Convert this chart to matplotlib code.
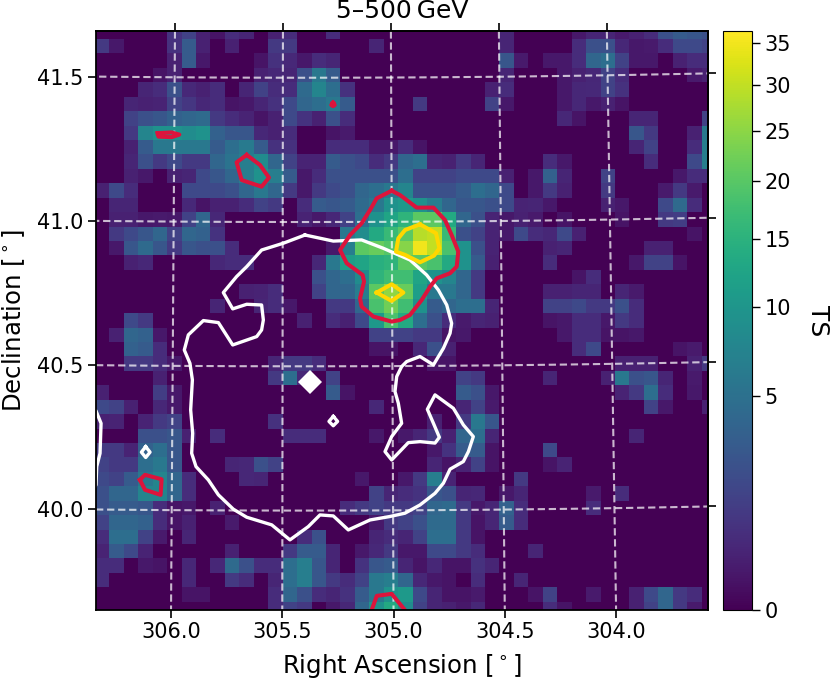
import numpy as np
import matplotlib
matplotlib.use('Agg')
import matplotlib.pyplot as plt
from matplotlib.colors import PowerNorm

# TS map, read cell by cell: row (from top) -> {column: TS}, other cells are 0
ts_rows = {
    0: {5: .8, 6: 1.4, 7: .3, 8: .1, 9: .6, 10: .4, 12: .3, 13: .6, 16: .6, 28: .4, 33: .15, 34: .4, 35: .4, 36: .2, 37: .3, 38: .6, 39: 2.2, 40: 3, 41: 2.6, 42: 2.2},
    1: {0: 1, 1: .15, 5: .75, 6: 3, 7: .3, 9: .3, 12: 1, 13: 1, 19: .4, 28: .4, 33: .6, 34: 2.2, 35: 2.2, 36: .45, 37: .15, 38: .2, 39: .6, 40: 1.8, 41: 1.8, 42: 1.4},
    2: {5: .3, 6: 3, 7: .15, 11: .1, 12: .75, 13: .5, 14: .15, 15: .6, 16: .4, 28: 2.6, 29: .2, 31: .15, 32: .15, 33: .6, 34: 4, 35: 4.8, 36: 1.4, 37: .15, 38: .15, 40: .3, 41: .6, 42: .6},
    3: {4: .1, 5: .3, 11: .3, 12: .45, 13: .4, 14: 2.2, 15: 5.8, 16: 3, 28: .4, 32: .15, 33: .3, 34: .45, 35: 1.4, 36: .6, 41: .2, 42: .3},
    4: {3: .4, 4: .6, 5: 2.2, 6: .5, 7: .3, 8: .6, 10: .4, 11: 1.4, 12: .6, 13: .6, 14: 4.4, 15: 7.6, 16: 4.8, 17: .75, 27: .3, 28: .6, 32: .15, 33: .45, 34: .5, 35: 1.4, 36: .75},
    5: {2: .4, 3: .3, 4: .35, 5: 1.4, 6: .9, 7: .45, 8: .6, 9: .1, 10: .15, 11: .4, 12: .75, 13: 1.8, 14: 4, 15: 4.8, 16: 5.8, 17: 3, 22: 1, 27: 1.4, 28: .15, 32: .15, 33: .45, 34: .15, 35: .3, 36: .1},
    6: {2: 1.4, 3: 2.2, 4: 2.6, 5: 3.5, 6: 4, 7: 4.4, 8: 1, 9: .6, 10: .35, 11: .1, 12: .3, 13: 1.8, 14: .8, 15: .3, 16: 2.2, 17: .6, 32: .45, 33: .1, 37: .4, 38: .4, 42: 1.4},
    7: {2: 1, 3: 7.6, 4: 9.5, 5: 9.5, 6: 8.6, 7: 9.5, 8: 3.5, 9: 2.6, 10: 2.6, 11: .45, 12: .3, 13: .6, 16: .1, 17: .2, 37: 2.6, 38: 1, 41: .3, 42: 5.8},
    8: {2: .3, 3: 3, 4: 5.8, 5: 5.8, 6: 5.8, 7: 5.8, 8: 3, 9: 4.8, 10: 6.2, 11: 3, 12: .75, 13: .75, 16: .6, 17: .6, 18: .6, 19: .15, 20: .15, 21: .6, 22: .1, 37: .4, 38: 1.4, 41: .6, 42: 6.7},
    9: {2: .4, 3: 2.2, 4: 1, 5: 1.8, 6: 1, 7: 1, 8: 4, 9: 5.3, 10: 6.7, 11: 8.6, 12: 4, 13: 1.4, 14: .35, 15: .35, 16: 3, 17: 2.2, 18: 1.8, 19: .6, 20: 1, 21: 4, 22: 4.8, 23: .4, 24: .3, 25: 1, 26: .4, 31: .6, 32: .15, 38: .6, 41: 1.8, 42: 6.7},
    10: {2: .3, 3: .15, 5: .3, 6: .4, 7: 1.8, 8: 2.6, 9: 4, 10: 6.7, 11: 9.5, 12: 6.7, 13: 3, 14: .15, 15: .6, 16: 2.2, 17: 2.2, 18: 2.2, 19: 2.2, 20: 2.2, 21: 4.8, 22: 1.4, 23: 1.4, 24: 1.4, 25: 1.8, 26: 1.8, 27: 1.8, 28: .3, 30: .15, 31: 3.5, 32: .4, 35: 1.4, 40: .15, 41: .6, 42: .6},
    11: {0: .3, 1: 1.8, 2: .6, 6: 1.8, 7: 1.8, 8: 1.8, 9: 2.2, 10: 4, 11: 5.8, 12: 4, 13: 1, 14: .15, 15: 1, 16: 1.8, 17: 2.2, 18: 4, 19: 4.8, 20: 5.8, 21: 7.6, 22: 2.2, 23: 2.2, 24: 2.2, 25: 3, 26: 4.8, 27: 4, 28: 1.8, 30: .15, 31: 1, 32: .3, 35: 1, 39: .2, 40: 1, 41: .2},
    12: {1: .4, 2: .4, 6: .5, 7: .1, 8: .3, 9: .3, 10: .6, 11: 1.4, 12: 1, 14: .6, 15: 3, 16: 2.6, 17: 3, 18: 4.4, 19: 5.8, 20: 9.5, 21: 10.5, 22: 9.5, 23: 6.7, 24: 4, 25: 2.6, 26: 2.6, 27: 2.2, 28: 1.8, 29: .35, 30: .4, 31: .15, 35: .3, 36: .15, 39: 1.8, 40: 4.4, 41: .6},
    13: {1: .3, 2: .3, 3: .15, 4: .2, 5: .15, 6: 1.4, 7: 4, 8: .45, 14: .35, 15: .15, 16: .45, 17: 1.4, 18: 4.8, 19: 9.5, 20: 12.5, 21: 15.5, 22: 20.5, 23: 20.5, 24: 13.5, 25: 4, 26: 2.2, 27: .35, 28: .15, 29: .3, 30: .2, 32: .1, 36: .1, 39: 1, 40: 1.2},
    14: {1: 1, 2: 1.8, 3: 2.6, 4: 4, 5: 1.4, 6: 4, 7: 3.5, 8: .8, 17: 5.8, 18: 8.6, 19: 13.5, 20: 16.5, 21: 20.5, 22: 29, 23: 30, 24: 16.5, 25: 2.2, 26: 1.4, 27: .35, 28: .15, 29: 1.8, 30: .6, 31: .45, 32: 1.8, 33: .3, 41: .1},
    15: {1: .15, 2: 2.6, 3: 4.4, 4: 2.6, 5: 1, 6: 2.6, 7: 2.2, 8: 2.2, 9: .6, 16: .15, 17: 6.7, 18: 20.5, 19: 21.5, 20: 19.5, 21: 24.5, 22: 35, 23: 30, 24: 18.5, 25: 9.5, 26: 2.2, 27: .35, 31: .3, 32: .4, 38: .3, 39: .3},
    16: {2: .3, 3: .45, 8: .45, 9: .6, 10: .6, 15: .45, 16: 5.8, 17: 11.5, 18: 12.5, 19: 14.5, 20: 15.5, 21: 20.5, 22: 20.5, 23: 18.5, 24: 13.5, 25: 9.5, 26: 3, 27: .3, 31: .6, 37: .15, 38: 1.4, 39: 1.4, 40: .1},
    17: {15: 2.2, 16: 4, 17: 4.8, 18: 8.6, 19: 15.5, 20: 17.5, 21: 17.5, 22: 12.5, 23: 9.5, 24: 7.6, 25: 4, 26: 1, 33: .1, 34: .6},
    18: {10: .3, 11: .35, 12: .6, 15: 1.4, 16: 4, 17: 4, 18: 6.7, 19: 20.5, 20: 25.5, 21: 21.5, 22: 11.5, 23: 5.8, 24: 5.8, 25: 4, 26: 1, 31: .3, 32: .3, 33: .4, 34: .4, 36: .4, 37: .2},
    19: {8: .4, 11: .4, 12: .6, 13: .15, 16: 1, 17: 1, 18: 4, 19: 18.5, 20: 22.5, 21: 17.5, 22: 9.5, 23: 3, 24: 4, 25: 4.8, 26: 4.8, 27: .4, 31: 1.4, 32: 1.4, 33: 1.8, 34: 1, 35: 1, 36: 2.2, 37: .6},
    20: {2: 1.8, 3: 1, 14: .3, 16: .6, 17: .3, 18: 1.8, 19: 10.5, 20: 18.5, 21: 13.5, 22: 4.8, 23: 2.2, 24: .6, 25: .2, 26: .4, 27: .3, 31: .1, 32: .15, 33: .6, 34: .6, 35: .15, 36: 1, 37: .6},
    21: {1: .3, 2: 4, 3: 3.5, 4: .15, 19: 1.4, 20: 1.4, 21: 1.4, 22: 1, 23: 1, 24: .1, 25: .15, 32: .15, 33: .6, 34: .6, 35: .1, 36: .1, 37: .15},
    22: {2: 3.5, 3: 3, 4: .6, 19: .1, 20: .1, 22: .45, 23: 2.2, 24: .3, 33: .6, 34: 1.8, 40: .1, 41: .2},
    23: {2: 1, 3: 1, 4: .6, 5: .15, 12: .4, 13: 1, 14: 1, 15: .6, 23: .1, 24: .1, 36: .3, 37: .3, 38: .3, 41: .3, 42: 1},
    24: {4: .3, 12: 1, 13: 4.8, 14: .5, 16: 1.4, 25: 1.4, 26: 1, 31: .4, 35: .3, 36: 5.8, 37: 2.2, 38: 2.6, 39: .4, 41: .2},
    25: {0: .3, 4: 1.2, 5: .15, 16: 3, 17: .1, 25: 3, 26: 2.2, 27: .15, 36: .35, 37: 1, 38: 4.8, 39: .6, 41: .15},
    26: {0: 1.8, 1: 1.4, 2: .3, 4: .45, 5: .15, 19: .45, 25: .4, 26: 1.4, 27: .2, 38: 1.4, 39: .15, 42: .3},
    27: {0: .3, 1: .35, 3: .35, 4: 1, 5: 1.4, 12: .75, 23: .3, 25: 1, 26: 5.8, 27: 2.6},
    28: {3: 2.2, 4: 2.2, 5: 2.6, 6: .3, 8: .6, 13: .6, 14: .6, 15: .6, 19: .15, 21: .15, 22: .4, 23: 1, 24: .3, 25: 4, 26: 4.8, 27: .4, 37: .4},
    29: {0: 1, 1: 1, 2: .35, 3: 3.5, 4: 4.8, 5: 2.6, 23: .15, 24: .8, 25: 3, 26: 3, 27: .1, 31: 1.8},
    30: {0: 1.4, 1: 1, 2: 1, 3: 4.8, 4: 5.8, 5: 2.6, 9: .4, 10: .45, 11: 2.2, 12: 1.4, 23: .4, 24: .1, 25: .35, 26: 1.4, 27: .1, 31: .1, 32: .35},
    31: {0: 1.8, 1: 1.4, 2: 3, 3: 5.8, 4: 7.6, 5: 4, 6: .6, 10: .45, 11: .4, 18: .15, 21: .15, 22: 1, 23: 6.7, 24: .35, 29: 1},
    32: {0: 2.2, 1: 4, 2: 4, 3: 7.6, 4: 7.6, 5: 4, 6: .6, 19: 1.4, 20: .4, 21: .6, 22: .8, 23: 2.6, 24: 2.2, 25: .4, 26: .45, 28: .15, 29: .4, 34: .2, 36: .6},
    33: {0: 2.2, 1: 3, 2: 3, 3: 2.6, 4: .6, 5: .1, 6: .15, 8: .3, 17: .6, 18: 1, 19: 1.4, 20: 1, 21: 1, 22: 1.4, 23: 4, 24: 4.4, 25: 1, 26: .15, 27: .4, 28: 3.5, 29: .6, 34: .6},
    34: {0: 1.4, 1: 4, 2: 4, 3: 3.5, 4: .6, 5: .1, 6: .3, 9: .2, 19: .15, 20: 1, 21: 1.4, 22: 2.2, 23: 4.4, 24: 4.4, 25: 1, 26: .1, 27: .4, 28: 3, 29: .6},
    35: {0: .6, 1: 4.8, 2: 4.8, 3: 1.4, 4: .2, 6: .4, 14: .6, 15: 2.2, 19: .4, 20: .6, 21: .4, 22: 1.4, 23: 4.8, 24: 4.8, 25: 1, 26: .1},
    36: {0: .35, 1: 3, 2: 1.8, 3: .35, 9: .3, 13: 1, 14: 3, 15: 3, 16: .4, 18: .15, 19: .5, 20: 1, 21: .15, 22: .15, 23: 1.8, 24: 1.8, 25: 1, 26: .6, 30: .4},
    37: {0: .6, 1: .6, 3: .15, 4: .1, 6: .45, 8: .45, 9: 4.4, 10: 2.2, 11: .6, 12: .6, 13: 4.8, 14: 6.7, 15: 2.6, 16: .4, 18: .8, 19: 2.6, 20: 3, 21: .4, 22: .1, 23: .45, 24: .1, 25: .1, 26: .75, 27: .4},
    38: {0: .6, 6: .45, 9: 1, 10: .6, 12: .4, 13: 4.8, 14: 6.7, 15: 2.6, 16: 1, 17: .6, 18: 1.4, 19: 5.8, 20: 6.7, 21: 4, 22: .45, 23: .15, 24: .1, 26: .6, 29: .4},
    39: {6: .1, 7: .1, 12: .6, 13: 4, 14: 2.2, 15: .6, 16: .4, 17: .75, 18: 3, 19: 5.8, 20: 9.5, 21: 10.5, 22: 1.8, 23: .4, 24: .1, 25: .1, 26: .2, 30: .1, 31: 1.4, 34: .2, 37: .3, 38: 1.8, 39: 4, 40: 1, 41: .6},
    40: {12: .6, 13: 1.4, 14: 1, 16: .15, 17: .45, 18: 4, 19: 9.5, 20: 13.5, 21: 8.6, 22: 1.4, 23: .4, 24: .3, 25: .15, 26: .45, 31: .6, 32: .1, 37: .3, 38: 1.4, 39: 4, 40: 1, 41: .2},
}
n_rows, n_cols = 41, 43
ra_ticks = [306.0, 305.5, 305.0, 304.5, 304.0]
dec_ticks = [40.0, 40.5, 41.0, 41.5]
cbar_ticks = [0, 5, 10, 15, 20, 25, 30, 35]

# contours in map cells (column, row)
white_main_col = [14.54, 16.5, 18.46, 19.96, 21.81, 22.96, 23.77, 24.35, 24.69, 24.58, 24.12, 23.43, 22.5, 21.58, 21.23, 20.89, 20.77, 21.0, 21.23, 20.54, 20.08, 20.54, 21.69, 22.5, 23.54, 23.84, 23.43, 23.01, 23.54, 24.81, 25.5, 26.19, 25.85, 25.5, 24.58, 24.12, 23.54, 22.5, 21.46, 20.42, 19.04, 17.54, 16.5, 15.58, 14.77, 13.5, 12.24, 10.51, 9.58, 8.55, 7.85, 7.0, 6.7, 6.77, 6.63, 6.75, 6.58, 6.19, 6.47, 7.51, 8.55, 9.54, 11.2, 11.54, 11.66, 11.54, 10.51, 9.54, 8.89, 9.81, 10.51, 11.54, 13.04, 14.54]
white_main_row = [14.58, 15.0, 14.92, 15.5, 16.31, 17.35, 18.39, 19.43, 20.7, 21.39, 22.43, 23.58, 23.0, 23.35, 23.7, 24.39, 25.43, 26.24, 27.63, 28.55, 29.59, 30.17, 28.97, 28.9, 29.0, 28.6, 27.63, 26.66, 25.66, 26.59, 27.74, 28.55, 29.59, 30.28, 30.81, 31.78, 32.48, 33.29, 33.86, 34.09, 34.33, 35.02, 34.05, 33.98, 34.79, 35.71, 34.67, 34.14, 33.58, 32.59, 31.55, 30.63, 29.71, 28.32, 26.7, 24.62, 23.47, 22.55, 21.5, 20.51, 20.65, 22.2, 21.62, 21.16, 20.47, 19.43, 19.38, 19.7, 18.57, 17.46, 16.77, 15.62, 15.15, 14.58]
white_edge_col = [-.1, .08, .43, .36, .13, .08, -.1]
white_edge_row = [26.6, 26.77, 27.63, 29.71, 30.63, 31.9, 32.2]
white_spot1_col = [16.5, 16.8, 16.5, 16.2, 16.5]
white_spot1_row = [27.15, 27.5, 27.8, 27.5, 27.15]
white_spot2_col = [3.52, 3.82, 3.52, 3.22, 3.52]
white_spot2_row = [29.25, 29.63, 30.0, 29.63, 29.25]
source_col, source_row = 14.89, 24.79

red_main_col = [20.54, 21.12, 22.27, 23.43, 24.23, 24.69, 25.15, 25.04, 24.58, 23.66, 23.2, 22.62, 21.81, 21.12, 20.54, 19.27, 18.46, 18.35, 18.63, 18.53, 17.43, 16.97, 17.66, 18.46, 19.04, 19.5, 20.54]
red_main_row = [11.51, 11.81, 12.68, 12.68, 13.54, 14.58, 15.73, 16.77, 17.23, 17.58, 18.16, 19.08, 20.12, 20.47, 20.58, 20.23, 19.54, 18.97, 17.81, 17.35, 16.54, 15.62, 14.58, 13.77, 12.85, 12.04, 11.51]
red_north_col = [10.51, 9.81, 10.16, 11.54, 12.05, 11.43, 10.51]
red_north_row = [9.03, 9.54, 10.77, 11.23, 10.6, 9.73, 9.03]
red_bar_col = [4.35, 5.31, 5.85, 5.31, 4.4, 4.35]
red_bar_row = [7.52, 7.47, 7.62, 7.8, 7.76, 7.52]
red_dot_col = [16.48, 16.6, 16.48, 16.36, 16.48]
red_dot_row = [5.4, 5.57, 5.65, 5.57, 5.4]
red_west_col = [3.12, 3.47, 4.62, 4.55, 3.47, 3.12]
red_west_row = [31.55, 31.2, 31.51, 32.59, 32.24, 31.55]
red_south_col = [19.0, 19.51, 20.54, 21.8]
red_south_row = [41.0, 39.59, 39.45, 41.0]

gold_big_col = [22.5, 23.61, 23.84, 23.47, 22.5, 21.47, 20.84, 21.0, 21.47, 22.5]
gold_big_row = [13.84, 14.46, 15.5, 16.01, 16.47, 15.96, 15.73, 14.81, 14.23, 13.84]
gold_small_col = [19.5, 20.54, 21.35, 20.54, 19.5]
gold_small_row = [18.57, 17.99, 18.57, 19.15, 18.57]


# sky position -> map cell, 0.05 deg per cell
def sky_to_cell(ra, dec):
    d_ra = ra - 305.4
    d = np.radians(dec)
    col = 14.51 - 20 * d_ra * np.cos(d)
    row = 13.68 - 20 * (dec - 41 + 0.5 * d_ra ** 2 * np.sin(d) * np.cos(d) * np.pi / 180)
    return col, row


ts = np.zeros((n_rows, n_cols))
for r, cells in ts_rows.items():
    for c, v in cells.items():
        ts[r, c] = v

fig = plt.figure(figsize=(8.31, 6.78), dpi=100)
ax = fig.add_axes([96 / 831, 1 - 610 / 678, 612 / 831, 579 / 678])
norm = PowerNorm(0.5, vmin=0, vmax=36.5)
im = ax.imshow(ts, cmap='viridis', norm=norm, origin='upper', aspect='auto',
               extent=(0, n_cols, n_rows, 0), interpolation='nearest')
xlim = (0.08, 42.43)
ylim = (40.57, 0.44)

# coordinate grid and ticks where it meets the frame
ra_s = np.linspace(303.0, 307.0, 200)
dec_s = np.linspace(39.3, 42.0, 200)
grid_style = dict(color='white', alpha=0.72, lw=1.5, ls=(0, (3.5, 1.8)))
bottom_ticks, top_ticks, left_ticks, right_ticks = [], [], [], []
for ra in ra_ticks:
    c, r = sky_to_cell(ra, dec_s)
    ax.plot(c, r, **grid_style)
    bottom_ticks.append(np.interp(ylim[0], r[::-1], c[::-1]))
    top_ticks.append(np.interp(ylim[1], r[::-1], c[::-1]))
for dec in dec_ticks:
    c, r = sky_to_cell(ra_s, dec)
    ax.plot(c, r, **grid_style)
    left_ticks.append(np.interp(xlim[0], c[::-1], r[::-1]))
    right_ticks.append(np.interp(xlim[1], c[::-1], r[::-1]))

white_lines = [(white_main_col, white_main_row), (white_edge_col, white_edge_row),
               (white_spot1_col, white_spot1_row), (white_spot2_col, white_spot2_row)]
for c, r in white_lines:
    ax.plot(c, r, color='white', lw=2.4)
ax.plot(source_col, source_row, marker='D', ms=12, color='white', mew=0)

red_lines = [(red_main_col, red_main_row), (red_north_col, red_north_row),
             (red_bar_col, red_bar_row), (red_dot_col, red_dot_row),
             (red_west_col, red_west_row), (red_south_col, red_south_row)]
for c, r in red_lines:
    ax.plot(c, r, color='crimson', lw=2.9)
ax.plot(gold_big_col, gold_big_row, color='gold', lw=2.9)
ax.plot(gold_small_col, gold_small_row, color='gold', lw=2.9)

ax.set_xlim(xlim)
ax.set_ylim(ylim)
ax.set_xticks(bottom_ticks)
ax.set_xticklabels(['%.1f' % v for v in ra_ticks])
ax.set_yticks(left_ticks)
ax.set_yticklabels(['%.1f' % v for v in dec_ticks])
ax.tick_params(labelsize=15, length=5.5, width=1.2)
ax.set_xlabel('Right Ascension [$^\\circ$]', fontsize=17.6, labelpad=6.5)
ax.set_ylabel('Declination [$^\\circ$]', fontsize=17.6, labelpad=7.5)
ax.set_title('5–500\u2009GeV', fontsize=18, pad=9)
for s in ax.spines.values():
    s.set_linewidth(1.3)

sec_x = ax.secondary_xaxis('top')
sec_x.set_xticks(top_ticks)
sec_x.set_xticklabels([])
sec_x.tick_params(length=5.5, width=1.2)
sec_x.spines['top'].set_linewidth(1.3)
sec_y = ax.secondary_yaxis('right')
sec_y.set_yticks(right_ticks)
sec_y.set_yticklabels([])
sec_y.tick_params(length=5.5, width=1.2)
sec_y.spines['right'].set_linewidth(1.3)

cax = fig.add_axes([723 / 831, 1 - 610 / 678, 29 / 831, 579 / 678])
cbar = fig.colorbar(im, cax=cax)
cbar.set_ticks(cbar_ticks)
cbar.set_ticklabels([str(v) for v in cbar_ticks])
cbar.ax.tick_params(labelsize=15, length=5.5, width=1)
cbar.set_label('TS', fontsize=18, rotation=270, labelpad=28)

fig.savefig('out.png', dpi=100)
